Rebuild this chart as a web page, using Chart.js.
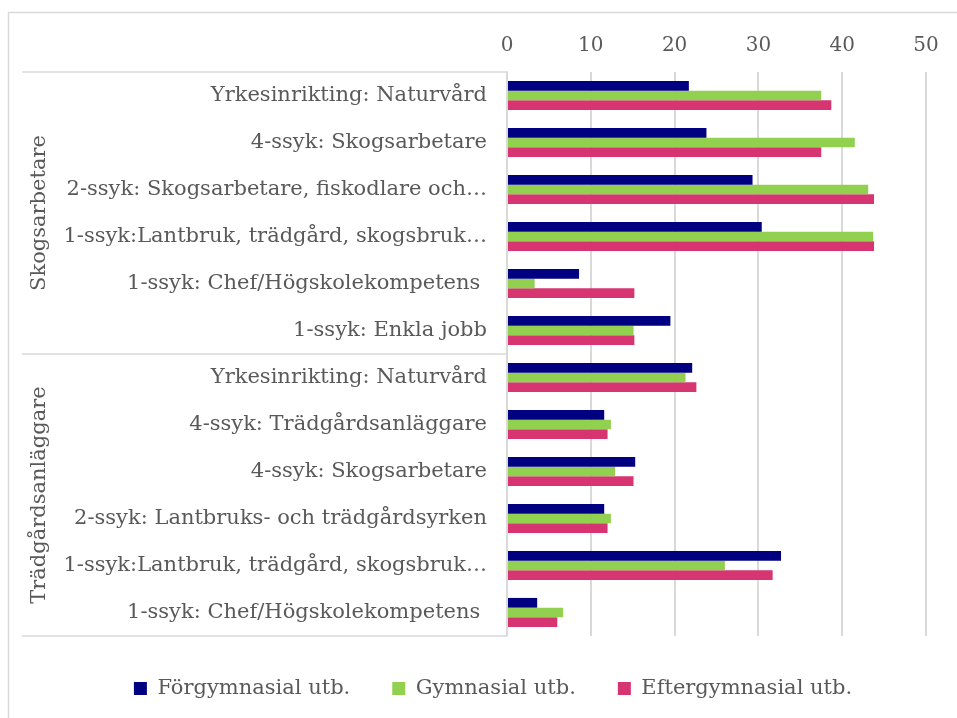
<!DOCTYPE html>
<html>
<head>
<meta charset="utf-8">
<script src="https://cdn.jsdelivr.net/npm/chart.js@4.4.1/dist/chart.umd.min.js"></script>
<style>
  html, body { margin: 0; padding: 0; background: #fff; }
  #wrap { width: 957px; height: 718px; }
</style>
</head>
<body>
<div id="wrap"><canvas id="bars"></canvas></div>
<script>
const categories = [
    'Yrkesinrikting: Naturvård',
    '4-ssyk: Skogsarbetare',
    '2-ssyk: Skogsarbetare, fiskodlare och…',
    '1-ssyk:Lantbruk, trädgård, skogsbruk…',
    '1-ssyk: Chef/Högskolekompetens ',
    '1-ssyk: Enkla jobb',
    'Yrkesinrikting: Naturvård',
    '4-ssyk: Trädgårdsanläggare',
    '4-ssyk: Skogsarbetare',
    '2-ssyk: Lantbruks- och trädgårdsyrken',
    '1-ssyk:Lantbruk, trädgård, skogsbruk…',
    '1-ssyk: Chef/Högskolekompetens '
];
const groupNames = ['Skogsarbetare', 'Trädgårdsanläggare'];
const groupSizes = [6, 6];

const forgymnasial = [21.7, 23.8, 29.3, 30.4, 8.6, 19.5, 22.1, 11.6, 15.3, 11.6, 32.7, 3.6];
const gymnasial = [37.5, 41.5, 43.1, 43.7, 3.3, 15.1, 21.3, 12.4, 12.9, 12.4, 26.0, 6.7];
const eftergymnasial = [38.7, 37.5, 43.8, 43.8, 15.2, 15.2, 22.6, 12.0, 15.1, 12.0, 31.7, 6.0];
const xTicks = [0, 10, 20, 30, 40, 50];

const textColor = '#595959';
const lineColor = '#d9d9d9';
const fontFamily = "'DejaVu Serif', Georgia, serif";

// outer frame, group label column and separators
const groupPlugin = {
    id: 'groupPlugin',
    beforeDraw(chart) {
        const ctx = chart.ctx;
        ctx.save();
        ctx.strokeStyle = lineColor;
        ctx.lineWidth = 1.5;
        ctx.strokeRect(8.5, 12.5, 1000, 1000);
        ctx.restore();
    },
    afterDraw(chart) {
        const ctx = chart.ctx;
        const y = chart.scales.y;
        const area = chart.chartArea;
        const step = y.getPixelForValue(1) - y.getPixelForValue(0);
        ctx.save();
        ctx.strokeStyle = lineColor;
        ctx.lineWidth = 1.5;
        let start = 0;
        const edges = [y.getPixelForValue(0) - step / 2];
        groupSizes.forEach(n => {
            start += n;
            edges.push(y.getPixelForValue(start - 1) + step / 2);
        });
        edges.forEach(e => {
            ctx.beginPath();
            ctx.moveTo(22, e);
            ctx.lineTo(area.left, e);
            ctx.stroke();
        });
        ctx.fillStyle = textColor;
        ctx.font = '21px ' + fontFamily;
        ctx.textAlign = 'center';
        ctx.textBaseline = 'middle';
        groupNames.forEach((name, i) => {
            const mid = (edges[i] + edges[i + 1]) / 2;
            ctx.save();
            ctx.translate(40, mid);
            ctx.rotate(-Math.PI / 2);
            ctx.fillText(name, 0, 0);
            ctx.restore();
        });
        ctx.restore();
    }
};

// legend sits a bit lower and centred on the whole frame, not the plot
const legendPlace = {
    id: 'legendPlace',
    afterInit(chart) {
        const fit = chart.legend.fit;
        chart.legend.fit = function () {
            fit.call(chart.legend);
            this.height = 82;
        };
    },
    afterLayout(chart) {
        chart.legend.left += 30;
        chart.legend.right += 30;
    }
};

const ctx = document.getElementById('bars').getContext('2d');

const myChart = new Chart(ctx, {
    type: 'bar',
    data: {
        labels: categories,
        datasets: [
            { label: 'Förgymnasial utb.', data: forgymnasial, backgroundColor: '#000080' },
            { label: 'Gymnasial utb.', data: gymnasial, backgroundColor: '#92d050' },
            { label: 'Eftergymnasial utb.', data: eftergymnasial, backgroundColor: '#d63571' }
        ]
    },
    options: {
        indexAxis: 'y',
        responsive: true,
        maintainAspectRatio: false,
        animation: false,
        categoryPercentage: 0.62,
        barPercentage: 1,
        layout: { padding: { left: 0, right: 31, top: 0, bottom: 0 } },
        scales: {
            x: {
                position: 'top',
                min: 0,
                max: 50,
                afterBuildTicks(scale) {
                    scale.ticks = xTicks.map(v => ({ value: v }));
                },
                afterFit(scale) { scale.height = 72; },
                grid: { color: lineColor, lineWidth: 2, drawTicks: false },
                border: { display: false },
                ticks: { color: textColor, padding: 14, font: { family: fontFamily, size: 20 } }
            },
            y: {
                afterFit(scale) { scale.width = 507; },
                grid: { display: false },
                border: { display: true, color: lineColor, width: 1.5 },
                ticks: { color: textColor, padding: 12, autoSkip: false, font: { family: fontFamily, size: 21 } }
            }
        },
        plugins: {
            legend: {
                position: 'bottom',
                labels: {
                    color: textColor,
                    boxWidth: 13,
                    boxHeight: 13,
                    padding: 42,
                    font: { family: fontFamily, size: 21 }
                }
            },
            tooltip: { enabled: false }
        }
    },
    plugins: [groupPlugin, legendPlace]
});
</script>
</body>
</html>
